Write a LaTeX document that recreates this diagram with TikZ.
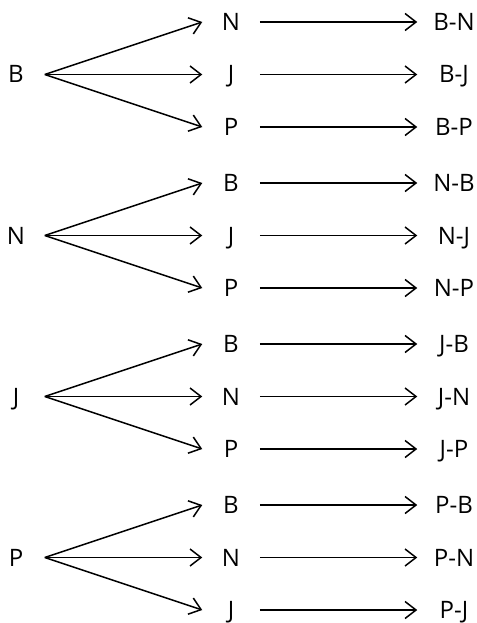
\documentclass[tikz,border=0pt]{standalone}
\usepackage{fontspec}
\setmainfont{Open Sans}
\usetikzlibrary{arrows.meta}

\begin{document}
\begin{tikzpicture}[x=1pt,y=-1pt,
	>={Straight Barb[length=11pt,width=17pt]},
	every node/.style={font=\fontsize{24}{29}\selectfont,inner sep=0pt,text height=17pt,text depth=0pt},
	rootnode/.style={minimum width=56pt},
	midnode/.style={minimum width=56pt},
	pairnode/.style={minimum width=72pt},
	every path/.style={line width=1.5pt}]
	\useasboundingbox (0,0) rectangle (476,623);

	% first letter B
	\node[rootnode] (B) at (16,74.5) {B};
	\node[midnode] (bn) at (231,22) {N};
	\node[midnode] (bj) at (231,74.5) {J};
	\node[midnode] (bp) at (231,127) {P};
	\node[pairnode] (BN) at (454,22) {B-N};
	\node[pairnode] (BJ) at (454,74.5) {B-J};
	\node[pairnode] (BP) at (454,127) {B-P};

	% first letter N
	\node[rootnode] (N) at (16,235.5) {N};
	\node[midnode] (nb) at (231,183) {B};
	\node[midnode] (nj) at (231,235.5) {J};
	\node[midnode] (np) at (231,288) {P};
	\node[pairnode] (NB) at (454,183) {N-B};
	\node[pairnode] (NJ) at (454,235.5) {N-J};
	\node[pairnode] (NP) at (454,288) {N-P};

	% first letter J
	\node[rootnode] (J) at (16,396.5) {J};
	\node[midnode] (jb) at (231,344) {B};
	\node[midnode] (jn) at (231,396.5) {N};
	\node[midnode] (jp) at (231,449) {P};
	\node[pairnode] (JB) at (454,344) {J-B};
	\node[pairnode] (JN) at (454,396.5) {J-N};
	\node[pairnode] (JP) at (454,449) {J-P};

	% first letter P
	\node[rootnode] (P) at (16,557.5) {P};
	\node[midnode] (pb) at (231,505) {B};
	\node[midnode] (pn) at (231,557.5) {N};
	\node[midnode] (pj) at (231,610) {J};
	\node[pairnode] (PB) at (454,505) {P-B};
	\node[pairnode] (PN) at (454,557.5) {P-N};
	\node[pairnode] (PJ) at (454,610) {P-J};

	\draw[->] (B.east) -- (bn.west);
	\draw[->] (B.east) -- (bj.west);
	\draw[->] (B.east) -- (bp.west);
	\draw[->] (bn.east) -- (BN.west);
	\draw[->] (bj.east) -- (BJ.west);
	\draw[->] (bp.east) -- (BP.west);

	\draw[->] (N.east) -- (nb.west);
	\draw[->] (N.east) -- (nj.west);
	\draw[->] (N.east) -- (np.west);
	\draw[->] (nb.east) -- (NB.west);
	\draw[->] (nj.east) -- (NJ.west);
	\draw[->] (np.east) -- (NP.west);

	\draw[->] (J.east) -- (jb.west);
	\draw[->] (J.east) -- (jn.west);
	\draw[->] (J.east) -- (jp.west);
	\draw[->] (jb.east) -- (JB.west);
	\draw[->] (jn.east) -- (JN.west);
	\draw[->] (jp.east) -- (JP.west);

	\draw[->] (P.east) -- (pb.west);
	\draw[->] (P.east) -- (pn.west);
	\draw[->] (P.east) -- (pj.west);
	\draw[->] (pb.east) -- (PB.west);
	\draw[->] (pn.east) -- (PN.west);
	\draw[->] (pj.east) -- (PJ.west);
\end{tikzpicture}
\end{document}
